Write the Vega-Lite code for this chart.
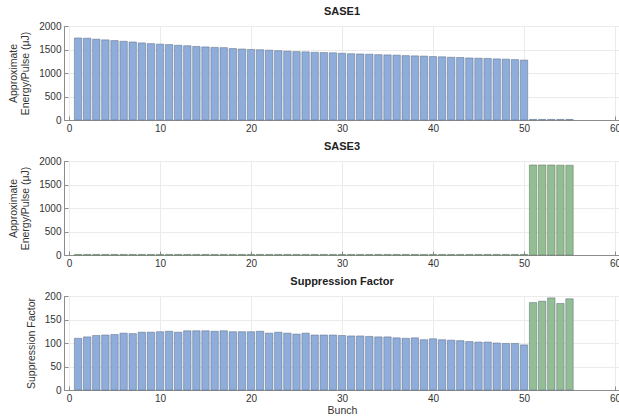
{
  "$schema": "https://vega.github.io/schema/vega-lite/v6.json",
  "padding": {"left": 7, "top": 5, "right": 0, "bottom": 0},
  "background": "white",
  "spacing": 41,
  "bounds": "flush",
  "config": {
    "font": "Liberation Sans",
    "view": {"stroke": "#8c8c8c", "strokeWidth": 1},
    "axis": {
      "labelFont": "Liberation Sans",
      "labelFontSize": 10,
      "labelColor": "#333333",
      "titleFont": "Liberation Sans",
      "titleFontSize": 10.5,
      "titleFontWeight": "normal",
      "titleColor": "#333333",
      "gridColor": "#ebebeb",
      "gridWidth": 1,
      "domainColor": "#8c8c8c",
      "tickColor": "#8c8c8c",
      "tickSize": -4,
      "labelPadding": 7,
      "format": "d"
    },
    "title": {"fontSize": 11, "fontWeight": "bold", "font": "Liberation Sans", "color": "#222222", "offset": 4}
  },
  "datasets": {
    "bunches": [
      {"bunch": 1, "sase1": 1745, "sase3": 12, "supp": 110, "beam": "SASE1"},
      {"bunch": 2, "sase1": 1740, "sase3": 12, "supp": 113, "beam": "SASE1"},
      {"bunch": 3, "sase1": 1720, "sase3": 12, "supp": 116, "beam": "SASE1"},
      {"bunch": 4, "sase1": 1705, "sase3": 12, "supp": 117, "beam": "SASE1"},
      {"bunch": 5, "sase1": 1690, "sase3": 12, "supp": 118, "beam": "SASE1"},
      {"bunch": 6, "sase1": 1675, "sase3": 12, "supp": 121, "beam": "SASE1"},
      {"bunch": 7, "sase1": 1660, "sase3": 12, "supp": 120, "beam": "SASE1"},
      {"bunch": 8, "sase1": 1640, "sase3": 12, "supp": 123, "beam": "SASE1"},
      {"bunch": 9, "sase1": 1625, "sase3": 12, "supp": 123, "beam": "SASE1"},
      {"bunch": 10, "sase1": 1615, "sase3": 12, "supp": 124, "beam": "SASE1"},
      {"bunch": 11, "sase1": 1605, "sase3": 12, "supp": 125, "beam": "SASE1"},
      {"bunch": 12, "sase1": 1590, "sase3": 12, "supp": 123, "beam": "SASE1"},
      {"bunch": 13, "sase1": 1580, "sase3": 12, "supp": 126, "beam": "SASE1"},
      {"bunch": 14, "sase1": 1565, "sase3": 12, "supp": 126, "beam": "SASE1"},
      {"bunch": 15, "sase1": 1555, "sase3": 12, "supp": 126, "beam": "SASE1"},
      {"bunch": 16, "sase1": 1545, "sase3": 12, "supp": 125, "beam": "SASE1"},
      {"bunch": 17, "sase1": 1540, "sase3": 12, "supp": 126, "beam": "SASE1"},
      {"bunch": 18, "sase1": 1520, "sase3": 12, "supp": 124, "beam": "SASE1"},
      {"bunch": 19, "sase1": 1510, "sase3": 12, "supp": 124, "beam": "SASE1"},
      {"bunch": 20, "sase1": 1500, "sase3": 12, "supp": 124, "beam": "SASE1"},
      {"bunch": 21, "sase1": 1495, "sase3": 12, "supp": 125, "beam": "SASE1"},
      {"bunch": 22, "sase1": 1485, "sase3": 12, "supp": 121, "beam": "SASE1"},
      {"bunch": 23, "sase1": 1475, "sase3": 12, "supp": 123, "beam": "SASE1"},
      {"bunch": 24, "sase1": 1465, "sase3": 12, "supp": 121, "beam": "SASE1"},
      {"bunch": 25, "sase1": 1455, "sase3": 12, "supp": 119, "beam": "SASE1"},
      {"bunch": 26, "sase1": 1450, "sase3": 12, "supp": 121, "beam": "SASE1"},
      {"bunch": 27, "sase1": 1440, "sase3": 12, "supp": 117, "beam": "SASE1"},
      {"bunch": 28, "sase1": 1435, "sase3": 12, "supp": 117, "beam": "SASE1"},
      {"bunch": 29, "sase1": 1430, "sase3": 12, "supp": 117, "beam": "SASE1"},
      {"bunch": 30, "sase1": 1420, "sase3": 12, "supp": 116, "beam": "SASE1"},
      {"bunch": 31, "sase1": 1410, "sase3": 12, "supp": 115, "beam": "SASE1"},
      {"bunch": 32, "sase1": 1405, "sase3": 12, "supp": 115, "beam": "SASE1"},
      {"bunch": 33, "sase1": 1400, "sase3": 12, "supp": 114, "beam": "SASE1"},
      {"bunch": 34, "sase1": 1390, "sase3": 12, "supp": 113, "beam": "SASE1"},
      {"bunch": 35, "sase1": 1385, "sase3": 12, "supp": 113, "beam": "SASE1"},
      {"bunch": 36, "sase1": 1380, "sase3": 12, "supp": 111, "beam": "SASE1"},
      {"bunch": 37, "sase1": 1370, "sase3": 12, "supp": 110, "beam": "SASE1"},
      {"bunch": 38, "sase1": 1365, "sase3": 12, "supp": 111, "beam": "SASE1"},
      {"bunch": 39, "sase1": 1360, "sase3": 12, "supp": 107, "beam": "SASE1"},
      {"bunch": 40, "sase1": 1350, "sase3": 12, "supp": 109, "beam": "SASE1"},
      {"bunch": 41, "sase1": 1345, "sase3": 12, "supp": 107, "beam": "SASE1"},
      {"bunch": 42, "sase1": 1335, "sase3": 12, "supp": 106, "beam": "SASE1"},
      {"bunch": 43, "sase1": 1330, "sase3": 12, "supp": 105, "beam": "SASE1"},
      {"bunch": 44, "sase1": 1320, "sase3": 12, "supp": 103, "beam": "SASE1"},
      {"bunch": 45, "sase1": 1315, "sase3": 12, "supp": 102, "beam": "SASE1"},
      {"bunch": 46, "sase1": 1310, "sase3": 12, "supp": 102, "beam": "SASE1"},
      {"bunch": 47, "sase1": 1300, "sase3": 12, "supp": 100, "beam": "SASE1"},
      {"bunch": 48, "sase1": 1295, "sase3": 12, "supp": 99, "beam": "SASE1"},
      {"bunch": 49, "sase1": 1285, "sase3": 12, "supp": 99, "beam": "SASE1"},
      {"bunch": 50, "sase1": 1275, "sase3": 12, "supp": 96, "beam": "SASE1"},
      {"bunch": 51, "sase1": 12, "sase3": 1915, "supp": 186, "beam": "SASE3"},
      {"bunch": 52, "sase1": 12, "sase3": 1915, "supp": 189, "beam": "SASE3"},
      {"bunch": 53, "sase1": 12, "sase3": 1915, "supp": 196, "beam": "SASE3"},
      {"bunch": 54, "sase1": 12, "sase3": 1912, "supp": 184, "beam": "SASE3"},
      {"bunch": 55, "sase1": 12, "sase3": 1910, "supp": 194, "beam": "SASE3"}
    ]
  },
  "vconcat": [
    {
      "width": 556,
      "height": 94,
      "title": "SASE1",
      "data": {"name": "bunches"},
      "mark": {"type": "bar", "size": 7.4, "color": "#8eaddb", "stroke": "#5a6a80", "strokeWidth": 0.5},
      "encoding": {
        "x": {"field": "bunch", "type": "quantitative", "scale": {"domain": [0, 60], "nice": false}, "axis": {"values": [0, 10, 20, 30, 40, 50, 60], "title": null}},
        "y": {"field": "sase1", "type": "quantitative", "scale": {"domain": [0, 2000], "nice": false}, "axis": {"values": [0, 500, 1000, 1500, 2000], "title": ["Approximate", "Energy/Pulse (μJ)"], "titlePadding": 8}}
      }
    },
    {
      "width": 556,
      "height": 94,
      "title": "SASE3",
      "data": {"name": "bunches"},
      "mark": {"type": "bar", "size": 7.4, "color": "#93be93", "stroke": "#5a705a", "strokeWidth": 0.5},
      "encoding": {
        "x": {"field": "bunch", "type": "quantitative", "scale": {"domain": [0, 60], "nice": false}, "axis": {"values": [0, 10, 20, 30, 40, 50, 60], "title": null}},
        "y": {"field": "sase3", "type": "quantitative", "scale": {"domain": [0, 2000], "nice": false}, "axis": {"values": [0, 500, 1000, 1500, 2000], "title": ["Approximate", "Energy/Pulse (μJ)"], "titlePadding": 8}}
      }
    },
    {
      "width": 556,
      "height": 94,
      "title": "Suppression Factor",
      "data": {"name": "bunches"},
      "mark": {"type": "bar", "size": 7.4, "strokeWidth": 0.5, "stroke": "#5a6a80"},
      "encoding": {
        "x": {"field": "bunch", "type": "quantitative", "scale": {"domain": [0, 60], "nice": false}, "axis": {"values": [0, 10, 20, 30, 40, 50, 60], "title": "Bunch", "titlePadding": 2}},
        "y": {"field": "supp", "type": "quantitative", "scale": {"domain": [0, 200], "nice": false}, "axis": {"values": [0, 50, 100, 150, 200], "title": "Suppression Factor", "titlePadding": 8}},
        "color": {"field": "beam", "type": "nominal", "scale": {"domain": ["SASE1", "SASE3"], "range": ["#8eaddb", "#93be93"]}, "legend": null}
      }
    }
  ]
}
